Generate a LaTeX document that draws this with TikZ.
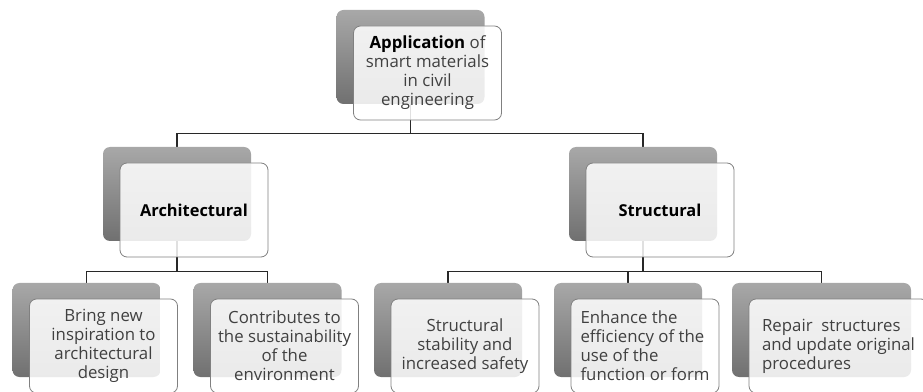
\documentclass[tikz,border=0pt]{standalone}
\usepackage{fontspec}
\setmainfont{Open Sans}
\usetikzlibrary{backgrounds}

\definecolor{boxtop}{RGB}{168,168,168}
\definecolor{boxbot}{RGB}{112,112,112}
\definecolor{frameline}{RGB}{128,128,128}
\definecolor{txtgray}{RGB}{64,64,64}
\definecolor{linegray}{RGB}{40,40,40}

\tikzset{
  backbox/.style={rectangle, rounded corners=7pt, minimum width=148pt,
    minimum height=94pt, inner sep=0pt, top color=boxtop, bottom color=boxbot},
  frontbox/.style={rectangle, rounded corners=7pt, minimum width=148pt,
    minimum height=94pt, inner sep=0pt, draw=frameline, line width=0.8pt,
    fill=white, fill opacity=0.86, text opacity=1, text=txtgray, align=center,
    font=\fontsize{16.8}{19}\selectfont, xshift=17pt, yshift=-16pt},
  headbox/.style={frontbox, text=black, font=\fontsize{16.4}{19}\selectfont\bfseries},
  conn/.style={draw=linegray, line width=1.2pt}
}

\begin{document}
\begin{tikzpicture}[x=1pt, y=1pt, line cap=round, line join=round]

\useasboundingbox (0,0) rectangle (923,391);

% --- Back boxes ---
\node[backbox] (appB) at (410.5,334) {};
\node[backbox] (archB) at (177,197) {};
\node[backbox] (strB) at (643,197) {};
\node[backbox] (inspB) at (86.5,61) {};
\node[backbox] (sustB) at (267.5,61) {};
\node[backbox] (safeB) at (448,61) {};
\node[backbox] (effB) at (628,61) {};
\node[backbox, minimum width=179pt] (repB) at (821.5,61) {};

% --- Front boxes ---
\node[frontbox] (app) at (appB) {\textcolor{black}{\bfseries Application} of\\smart materials\\in civil\\engineering};
\node[headbox] (arch) at (archB) {Architectural};
\node[headbox] (str) at (strB) {Structural};
\node[frontbox] (insp) at (inspB) {Bring new\\inspiration to\\architectural\\design};
\node[frontbox] (sust) at (sustB) {Contributes to\\the sustainability\\of the\\environment};
\node[frontbox] (safe) at (safeB) {Structural\\stability and\\increased safety};
\node[frontbox, align=left] (eff) at (effB) {Enhance the\\efficiency of the\\use of the\\function or form};
\node[frontbox, align=left, minimum width=179pt] (rep) at (repB) {Repair~ structures\\and update original\\procedures};

% --- Connectors ---
\begin{scope}[on background layer]
\draw[conn] (appB.south) -- ++(0,-29) -| (archB.north);
\draw[conn] (appB.south) -- ++(0,-29) -| (strB.north);
\draw[conn] (archB.south) -- ++(0,-30) -| (inspB.north);
\draw[conn] (archB.south) -- ++(0,-30) -| (sustB.north);
\draw[conn] (strB.south) -- ++(0,-30) -| (safeB.north);
\draw[conn] (strB.south) -- ++(0,-30) -| (effB.north);
\draw[conn] (strB.south) -- ++(0,-30) -| (repB.north);
\end{scope}

\end{tikzpicture}
\end{document}
